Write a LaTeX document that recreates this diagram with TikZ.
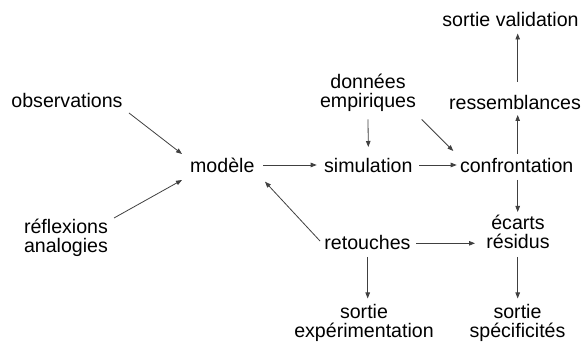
\documentclass[tikz,border=0pt]{standalone}
\usepackage{fontspec}
\setmainfont{Liberation Sans}
\usetikzlibrary{calc,arrows.meta}
\begin{document}
\begin{tikzpicture}[x=1pt,y=-1pt,
  lbl/.style={inner sep=0pt,align=center,font=\fontsize{19.6}{19.5}\selectfont},
  conn/.style={draw=black!75,line width=0.8pt},
  arr/.style={conn,-{Triangle[length=6pt,width=4.5pt]}}]
\useasboundingbox (0,0) rectangle (586,344);
\node[lbl] (obs) at (67,100) {observations};
\node[lbl] (modele) at (222.3,165) {modèle};
\node[lbl] (refl) at (66,238) {réflexions\\analogies};
\node[lbl] (donnees) at (368,93) {données\\empiriques};
\node[lbl] (sim) at (368.3,165) {simulation};
\node[lbl] (conf) at (516.7,165) {confrontation};
\node[lbl] (ress) at (515,102) {ressemblances};
\node[lbl] (sval) at (510.5,19) {sortie validation};
\node[lbl] (ecarts) at (518,232) {écarts\\résidus};
\node[lbl] (ret) at (367.5,242) {retouches};
\node[lbl] (sexp) at (364,323) {sortie\\expérimentation};
\node[lbl] (sspec) at (517.5,323) {sortie\\spécificités};

\draw[arr] ($(obs)+(62,13)$) -- ($(modele)+(-40.3,-11)$);
\draw[arr] ($(refl)+(48,-20)$) -- ($(modele)+(-40.3,15)$);
\draw[arr] ($(modele)+(41,0)$) -- ($(sim)+(-51.6,0)$);
\draw[arr] ($(sim)+(51,0)$) -- ($(conf)+(-60,0)$);
\draw[arr] ($(donnees)+(0,26.5)$) -- ($(sim)+(0,-18)$);
\draw[arr] ($(donnees)+(53.7,26.5)$) -- ($(conf)+(-63.4,-14)$);
\draw[arr] ($(conf)+(1,-11)$) -- ($(ress)+(2.7,13)$);
\draw[arr] ($(ress)+(2.7,-20)$) -- ($(sval)+(7.2,14.5)$);
\draw[arr] ($(conf)+(1,15)$) -- ($(ecarts)+(-0.3,-20)$);
\draw[arr] ($(ret)+(48.5,1.3)$) -- ($(ecarts)+(-43,11.3)$);
\draw[arr] ($(ret)+(-47.5,-1)$) -- ($(modele)+(42.7,16.7)$);
\draw[arr] ($(ret)+(0.2,15)$) -- ($(sexp)+(3.7,-24.5)$);
\draw[arr] ($(ecarts)+(-0.3,25)$) -- ($(sspec)+(0.2,-24.5)$);
\end{tikzpicture}
\end{document}
